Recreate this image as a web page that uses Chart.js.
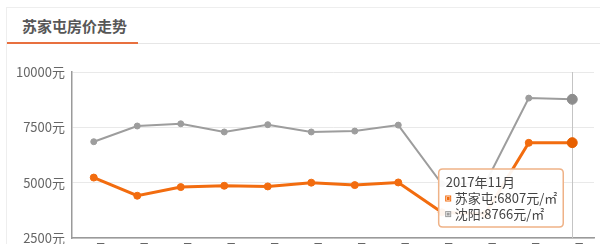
<!DOCTYPE html>
<html>
<head>
<meta charset="utf-8">
<script src="https://cdn.jsdelivr.net/npm/chart.js@4/dist/chart.umd.min.js"></script>
<style>
  html, body { margin: 0; padding: 0; background: #fff; }
  body { width: 600px; height: 244px; position: relative; overflow: hidden; font-family: "Noto Sans CJK SC", "Noto Sans", sans-serif; }
  #card { position: absolute; left: 6px; top: 7px; width: 620px; height: 260px; border: 1px solid #eeeeee; box-sizing: border-box; }
  #title { position: absolute; left: 22px; top: 15px; font-size: 15px; font-weight: bold; color: #575757; line-height: 22px; }
  #rule { position: absolute; left: 7px; top: 43px; width: 600px; height: 1px; background: #e6e6e6; }
  #accent { position: absolute; left: 7px; top: 42px; width: 131px; height: 2px; background: #e8703f; }
  #wrap { position: absolute; left: 0; top: 0; width: 600px; height: 244px; }
</style>
</head>
<body>
<div id="card"></div>
<div id="title">苏家屯房价走势</div>
<div id="rule"></div>
<div id="accent"></div>
<div id="wrap"><canvas id="c" width="600" height="244"></canvas></div>
<script>
// Data
const months = ["2016年12月","2017年01月","2017年02月","2017年03月","2017年04月","2017年05月","2017年06月","2017年07月","2017年08月","2017年09月","2017年10月","2017年11月"];
const tickLabels = ["12月","01月","02月","03月","04月","05月","06月","07月","08月","09月","10月","11月"];
const sujiatun = [5230, 4410, 4800, 4860, 4830, 5000, 4890, 5010, 3660, 3580, 6800, 6807];
const shenyang = [6850, 7560, 7660, 7290, 7620, 7290, 7330, 7600, 4950, 4960, 8820, 8766];
const yTicks = [2500, 5000, 7500, 10000];
const seriesNames = ["苏家屯", "沈阳"];

const ORANGE = "#f26c0f";
const GRAY = "#9d9d9d";

Chart.Tooltip.positioners.fixedLeft = function(elements) {
  if (!elements.length) return false;
  const ca = this.chart.chartArea;
  return { x: elements[0].element.x - 9, y: (ca.top + ca.bottom) / 2 + 43 };
};

const crosshair = {
  id: 'crosshair',
  beforeDatasetsDraw(chart) {
    const act = chart.getActiveElements();
    if (!act.length) return;
    const x = act[0].element.x;
    const ctx = chart.ctx;
    ctx.save();
    ctx.strokeStyle = "#c4c4c4";
    ctx.lineWidth = 1;
    ctx.beginPath();
    ctx.moveTo(Math.round(x) + 0.5, chart.chartArea.top);
    ctx.lineTo(Math.round(x) + 0.5, chart.chartArea.bottom);
    ctx.stroke();
    ctx.restore();
  }
};

const chart = new Chart(document.getElementById('c'), {
  type: 'line',
  data: {
    labels: months,
    datasets: [
      { label: seriesNames[0], data: sujiatun, borderColor: ORANGE, backgroundColor: ORANGE,
        borderWidth: 3, pointRadius: 3.5, pointHoverRadius: 5, pointBorderWidth: 1, pointHoverBorderWidth: 1,
        pointBackgroundColor: ORANGE, pointBorderColor: ORANGE, tension: 0 },
      { label: seriesNames[1], data: shenyang, borderColor: GRAY, backgroundColor: GRAY,
        borderWidth: 2, pointRadius: 3, pointHoverRadius: 5, pointBorderWidth: 1, pointHoverBorderWidth: 1,
        pointBackgroundColor: GRAY, pointBorderColor: GRAY, tension: 0 }
    ]
  },
  options: {
    responsive: false,
    animation: false,
    events: [],
    layout: { padding: { left: 0, right: 6, top: 72, bottom: 0 } },
    scales: {
      x: {
        offset: true,
        grid: { display: false, drawTicks: false },
        border: { display: true, color: "#9a9a9a", width: 1.5 },
        ticks: { padding: 3, color: "#666", font: { family: "Noto Sans CJK SC", size: 12 }, maxRotation: 0, autoSkip: false,
                 callback: (v, i) => tickLabels[i] },
        afterFit(s) { s.height = 6; s.paddingLeft = 0; s.paddingRight = 0; }
      },
      y: {
        min: 2500, max: 10000,
        afterBuildTicks(s) { s.ticks = yTicks.map(v => ({ value: v })); },
        grid: { color: "#e9e9e9", drawTicks: false },
        border: { display: true, color: "#9a9a9a", width: 1.5 },
        ticks: { padding: 7, color: "#666", font: { family: "Noto Sans CJK SC", size: 13 }, callback: v => v + "元" },
        afterFit(s) { s.width = 72; s.paddingTop = 0; s.paddingBottom = 0; }
      }
    },
    plugins: {
      legend: { display: false },
      title: { display: false },
      tooltip: {
        enabled: true,
        position: 'fixedLeft',
        xAlign: 'right', yAlign: 'center',
        caretSize: 0, caretPadding: 0,
        backgroundColor: "rgba(255,255,255,0.93)",
        borderColor: "#efb287", borderWidth: 1.5, cornerRadius: 4,
        titleColor: "#444", bodyColor: "#444",
        titleFont: { family: "Noto Sans CJK SC", size: 13, weight: 'normal' },
        bodyFont: { family: "Noto Sans CJK SC", size: 13 },
        titleMarginBottom: 1, bodySpacing: 0,
        padding: { left: 7, right: 6, top: 5, bottom: 5 },
        boxWidth: 5, boxHeight: 5, boxPadding: 2,
        displayColors: true,
        callbacks: {
          label: ctx => ctx.dataset.label + ":" + ctx.parsed.y + "元/㎡",
          labelColor: ctx => ({ borderColor: ctx.dataset.borderColor, backgroundColor: ctx.dataset.borderColor, borderWidth: 0 })
        }
      }
    }
  },
  plugins: [crosshair]
});

const last = months.length - 1;
const active = [{ datasetIndex: 0, index: last }, { datasetIndex: 1, index: last }];
chart.setActiveElements(active);
chart.tooltip.setActiveElements(active, { x: 0, y: 0 });
chart.update('none');
</script>
</body>
</html>
